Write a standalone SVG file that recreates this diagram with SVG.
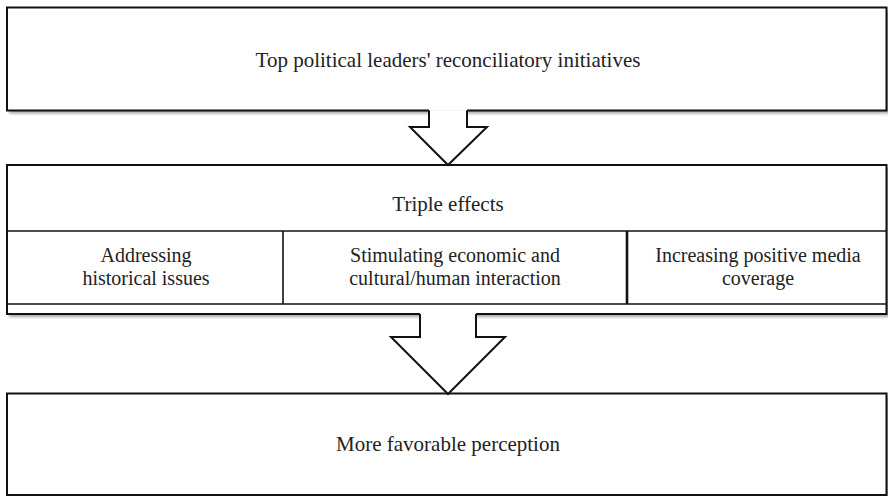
<svg xmlns="http://www.w3.org/2000/svg" width="888" height="496" viewBox="0 0 888 496">
  <defs>
    <filter id="sh" x="-5%" y="-20%" width="110%" height="140%">
      <feDropShadow dx="2" dy="3" stdDeviation="1.5" flood-color="#000" flood-opacity="0.35"/>
    </filter>
  </defs>
  <style>
    .box { fill: #fff; stroke: none; }
    .edge { fill: none; stroke: #111; stroke-width: 2; }
    .cell { fill: none; stroke: #111; stroke-width: 1.6; }
    .arrow { fill: #fff; stroke: #111; stroke-width: 2; stroke-linejoin: miter; }
    text { font-family: "Liberation Serif", "Times New Roman", serif; fill: #222; text-anchor: middle; }
    .h { font-size: 21px; }
    .c { font-size: 20px; }
  </style>
  <rect width="888" height="496" fill="#fff"/>

  <g id="top">
    <rect class="box" x="7" y="7.5" width="880" height="103" filter="url(#sh)"/>
    <path class="edge" d="M429,110.5 H7 V7.5 H886.5 V110.5 H467"/>
    <text class="h" x="448" y="67">Top political leaders' reconciliatory initiatives</text>
  </g>

  <g id="middle">
    <rect class="box" x="7" y="165" width="880" height="149" filter="url(#sh)"/>
    <path class="edge" d="M420,314 H7 V165 H886.5 V314 H476"/>
    <line class="cell" x1="7" y1="231" x2="886.5" y2="231"/>
    <line class="cell" x1="7" y1="304" x2="886.5" y2="304"/>
    <line class="cell" x1="283" y1="231" x2="283" y2="304"/>
    <line class="cell" x1="627" y1="231" x2="627" y2="304" style="stroke-width:2.6"/>
    <text class="h" x="448" y="211">Triple effects</text>
    <g id="cell-history">
      <text class="c" x="146" y="262">Addressing</text>
      <text class="c" x="146" y="285">historical issues</text>
    </g>
    <g id="cell-economic">
      <text class="c" x="455" y="262">Stimulating economic and</text>
      <text class="c" x="455" y="285">cultural/human interaction</text>
    </g>
    <g id="cell-media">
      <text class="c" x="758" y="262">Increasing positive media</text>
      <text class="c" x="758" y="285">coverage</text>
    </g>
  </g>

  <g id="bottom">
    <rect class="box" x="7" y="393" width="880" height="102" filter="url(#sh)"/>
    <path class="edge" d="M7,393.5 H886.5 V495 H7 Z"/>
    <text class="h" x="448" y="451">More favorable perception</text>
  </g>

  <g id="connectors">
    <path class="arrow" d="M429,110.5 V127 H410 L448,165 L487,127 H467 V110.5"/>
    <path class="arrow" d="M420,314 V337 H391 L448,394 L505,337 H476 V314"/>
  </g>
</svg>
